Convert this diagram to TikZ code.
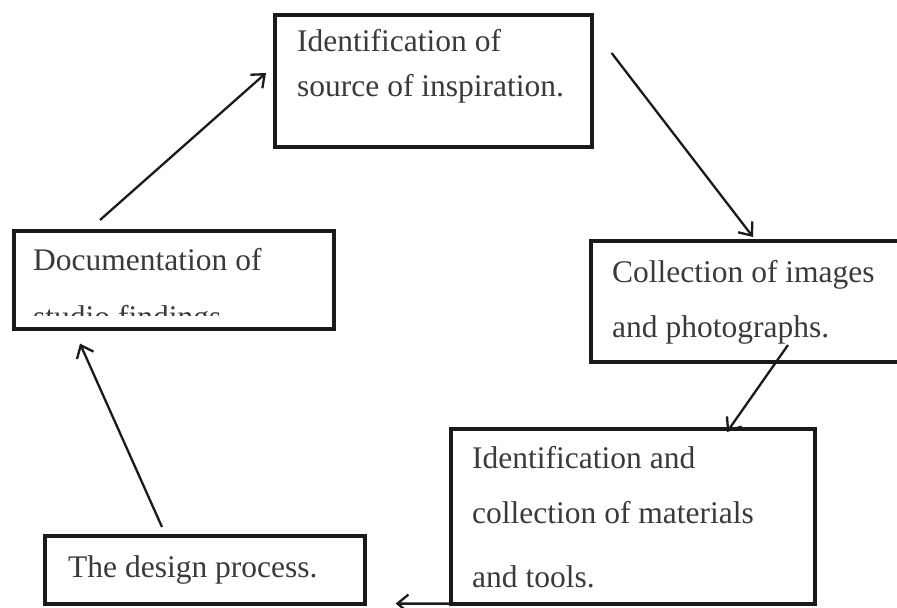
\documentclass[tikz,border=0pt]{standalone}
\usepackage{fontspec}
\setmainfont{Liberation Serif}
\usetikzlibrary{arrows.meta}
\definecolor{ink}{HTML}{1A1A1A}
\definecolor{txt}{HTML}{3A3A3A}
\begin{document}
\begin{tikzpicture}[x=1bp,y=-1bp,
  boxnode/.style={draw=ink, line width=3.6bp, rectangle, inner sep=0pt, anchor=north west},
  lbl/.style={anchor=base west, inner sep=0pt, text=txt, font=\fontsize{31.5bp}{36bp}\selectfont},
  flow/.style={draw=ink, line width=2.3bp, -{Straight Barb[length=11bp,width=18bp,line width=2.3bp]}}]
\useasboundingbox (0,0) rectangle (897,608);
\clip (0,0) rectangle (897,608);
% boxes
\node[boxnode, minimum width=317bp, minimum height=132bp] (T) at (273,13) {};
\node[boxnode, minimum width=321bp, minimum height=121bp] (R) at (589,239) {};
\node[boxnode, minimum width=364bp, minimum height=175bp] (BR) at (449,427) {};
\node[boxnode, minimum width=320bp, minimum height=68bp] (D) at (43,534) {};
\node[boxnode, minimum width=320bp, minimum height=98bp] (L) at (12,229) {};
% texts
\node[lbl] (t1) at (297,52) {Identification of};
\node[lbl] (t2) at (297,97) {source of inspiration.};
\node[lbl] (r1) at (612,282) {Collection of images};
\node[lbl] (r2) at (612,337) {and photographs.};
\node[lbl] (b1) at (472,468) {Identification and};
\node[lbl] (b2) at (472,523) {collection of materials};
\node[lbl] (b3) at (472,587) {and tools.};
\node[lbl] (d1) at (68,577) {The design process.};
\node[lbl] (l1) at (33,270) {Documentation of};
\begin{scope}
  \clip (14,231) rectangle (330,315);
  \node[lbl] (l2) at (33,327) {studio findings};
\end{scope}
% connectors
\draw[flow] ([shift={(88,-9)}]L.north west) -- ([shift={(-7,60)}]T.north west);
\draw[flow] ([shift={(18,40)}]T.north east) -- ([shift={(164,-2)}]R.north west);
\draw[flow] ([shift={(199,106)}]R.north west) -- ([shift={(278,5)}]BR.north west);
\draw[flow] ([shift={(0,-2)}]BR.south west) -- ([shift={(29,-2)}]D.south east);
\draw[flow] ([shift={(119,-7)}]D.north west) -- ([shift={(68,13)}]L.south west);
\end{tikzpicture}
\end{document}
